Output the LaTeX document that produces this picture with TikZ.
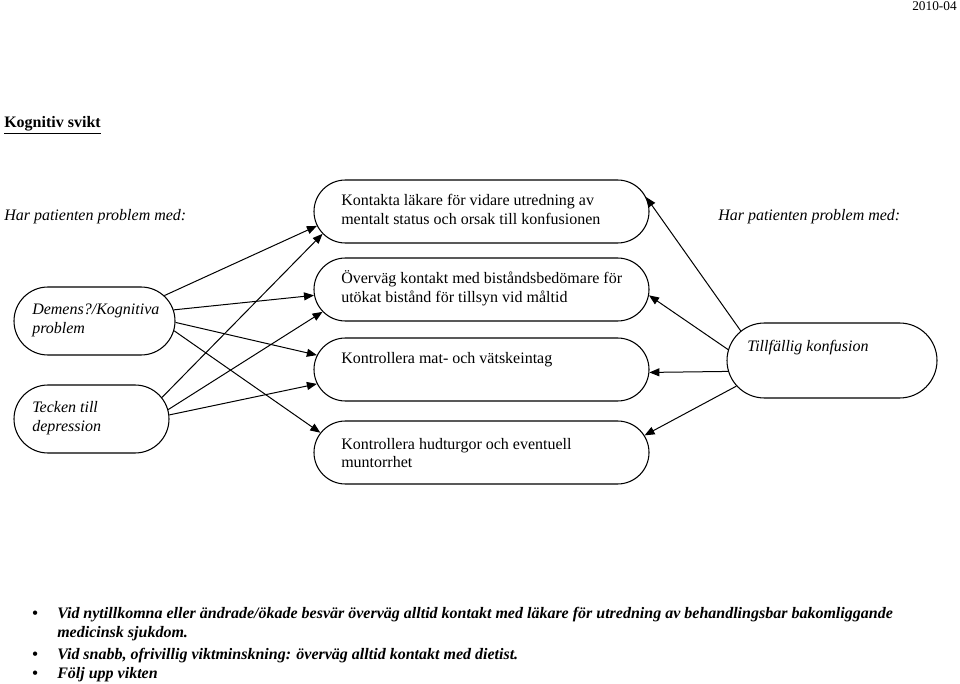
\documentclass[tikz,border=0pt]{standalone}
\usepackage{fontspec}
\setmainfont{Liberation Serif}
\usetikzlibrary{arrows.meta,shapes.misc}
\tikzset{
  ruta/.style={draw,line width=0.8pt,rounded rectangle,inner sep=0pt},
  aktbox/.style={ruta,minimum width=251.25pt,minimum height=47.25pt},
  rutatext/.style={anchor=west,align=left,inner sep=0pt,font=\fontsize{12}{14}\selectfont},
  fragetext/.style={rutatext,font=\fontsize{12}{14}\selectfont\itshape},
  pil/.style={-{Triangle[length=7.5pt,width=6pt]},line width=0.75pt},
  rubriktext/.style={anchor=base west,inner sep=0pt,font=\fontsize{12}{14}\selectfont},
}
\begin{document}
\begin{tikzpicture}[x=0.75pt,y=-0.75pt]
\useasboundingbox (0,0) rectangle (960,684);
\node[anchor=base east,inner sep=0pt,font=\fontsize{10}{12}\selectfont] (datum) at (957,11) {2010-04};
\node[rubriktext,font=\fontsize{12}{14}\selectfont\bfseries] (rubrik) at (4,128) {\underline{Kognitiv svikt}};
\node[rubriktext,font=\fontsize{12}{14}\selectfont\itshape] (fragaV) at (4,221) {Har patienten problem med:};
\node[rubriktext,font=\fontsize{12}{14}\selectfont\itshape] (fragaH) at (718,221) {Har patienten problem med:};

\node[aktbox] (kontakt) at (481.5,211.5) {};
\node[aktbox] (bistand) at (481.5,289.5) {};
\node[aktbox] (matintag) at (481.5,369.5) {};
\node[aktbox] (hud) at (481.5,452.5) {};
\node[ruta,minimum width=120.75pt,minimum height=51pt] (demens) at (94.5,321) {};
\node[ruta,minimum width=116.25pt,minimum height=51pt] (tecken) at (91.5,419) {};
\node[ruta,minimum width=157.5pt,minimum height=56.25pt] (konfusion) at (832,360.5) {};

\node[rutatext] (kontakt-t) at (341,209.5) {Kontakta läkare för vidare utredning av\\mentalt status och orsak till konfusionen};
\node[rutatext] (bistand-t) at (341,288.5) {Överväg kontakt med biståndsbedömare för\\utökat bistånd för tillsyn vid måltid};
\node[rutatext] (matintag-t) at (341,360) {Kontrollera mat- och vätskeintag};
\node[rutatext] (hud-t) at (341,453) {Kontrollera hudturgor och eventuell\\muntorrhet};
\node[fragetext] (demens-t) at (32,320.5) {Demens?/Kognitiva\\problem};
\node[fragetext] (tecken-t) at (32,418) {Tecken till\\depression};
\node[fragetext] (konfusion-t) at (747,348) {Tillfällig konfusion};

\draw[pil] (demens.20.9) -- (kontakt.185.3);
\draw[pil] (demens.8.5) -- (bistand.182.5);
\draw[pil] (demens.-1.4) -- (matintag.175.8);
\draw[pil] (demens.-7) -- (hud.173.5);
\draw[pil] (tecken.17.4) -- (kontakt.188.5);
\draw[pil] (tecken.7.2) -- (bistand.188.5);
\draw[pil] (tecken.3.7) -- (matintag.185.9);
\draw[pil] (konfusion.162) -- (kontakt.5.2);
\draw[pil] (konfusion.174.2) -- (bistand.-2.9);
\draw[pil] (konfusion.186.8) -- (matintag.-1.2);
\draw[pil] (konfusion.195.8) -- (hud.6.1);

\node[rubriktext,font=\fontsize{12}{14}\selectfont\bfseries] (b1) at (32,618) {\textbullet};
\node[rubriktext,font=\fontsize{12}{14}\selectfont\bfseries] (b2) at (32,659) {\textbullet};
\node[rubriktext,font=\fontsize{12}{14}\selectfont\bfseries] (b3) at (32,678) {\textbullet};
\node[rubriktext,align=left,font=\fontsize{12}{14.25}\selectfont\bfseries\itshape] (punkt1) at (57,637) {Vid nytillkomna eller ändrade/ökade besvär överväg alltid kontakt med läkare för utredning av behandlingsbar bakomliggande\\medicinsk sjukdom.};
\node[rubriktext,font=\fontsize{12}{14}\selectfont\bfseries\itshape] (punkt2) at (57,659) {Vid snabb, ofrivillig viktminskning: överväg alltid kontakt med dietist.};
\node[rubriktext,font=\fontsize{12}{14}\selectfont\bfseries\itshape] (punkt3) at (57,678) {Följ upp vikten};
\end{tikzpicture}
\end{document}
